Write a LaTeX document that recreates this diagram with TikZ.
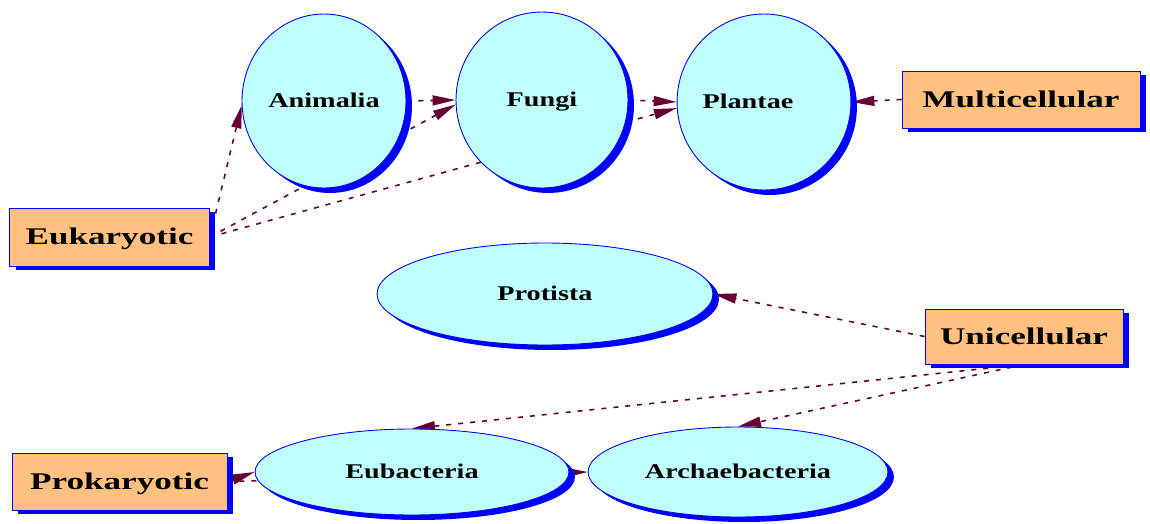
\documentclass[tikz,border=0pt]{standalone}
\usepackage{graphicx}
\usepackage{fontspec}
\setmainfont{Liberation Serif}
\usetikzlibrary{shapes.geometric,arrows.meta,shadows,backgrounds}
\definecolor{edgecol}{HTML}{660033}
\definecolor{boxfill}{HTML}{FFC080}
\definecolor{ellfill}{HTML}{BFFFFF}
\newcommand{\boxtxt}[1]{\scalebox{1.47}[1]{\fontsize{13.6pt}{14pt}\selectfont\bfseries #1}}
\newcommand{\elltxt}[1]{\scalebox{1.35}[1]{\fontsize{11.9pt}{12pt}\selectfont\bfseries #1}}
\begin{document}
\begin{tikzpicture}[x=0.02cm,y=-0.02cm,
  kingdom/.style={ellipse, draw=blue, line width=0.5pt, fill=ellfill, inner sep=0pt,
    text height=7pt, text depth=0pt,
    drop shadow={shadow xshift=0.12cm, shadow yshift=-0.1cm, fill=blue, opacity=1}},
  category/.style={rectangle, draw=blue, line width=0.5pt, fill=boxfill, inner sep=0pt,
    text height=9pt, text depth=0pt,
    drop shadow={shadow xshift=0.12cm, shadow yshift=-0.08cm, fill=blue, opacity=1}},
  edge/.style={draw=edgecol, line width=0.9pt, dash pattern=on 0.1cm off 0.14cm,
    -{Triangle[length=0.46cm,width=0.2cm,fill=edgecol]}}
]
\useasboundingbox (0,0) rectangle (1150,524);

% kingdoms
\node[kingdom, minimum width=3.28cm, minimum height=3.48cm] (ani) at (324,101) {\elltxt{Animalia}};
\node[kingdom, minimum width=3.44cm, minimum height=3.52cm] (fun) at (542,100) {\elltxt{Fungi}};
\node[kingdom, minimum width=3.24cm, minimum height=3.52cm] (pla) at (764,102) {\elltxt{Plantae}\hspace*{0.64cm}};
\node[kingdom, minimum width=6.72cm, minimum height=2.04cm] (prot) at (545,294) {\elltxt{Protista}};
\node[kingdom, minimum width=6.28cm, minimum height=1.72cm] (eub) at (412,472) {\elltxt{Eubacteria}};
\node[kingdom, minimum width=6.0cm, minimum height=1.8cm] (arc) at (738,472) {\elltxt{Archaebacteria}};

% categories
\node[category, minimum width=4.0cm, minimum height=1.16cm] (euk) at (109.5,237) {\boxtxt{Eukaryotic}};
\node[category, minimum width=4.76cm, minimum height=1.14cm] (mul) at (1021,99.5) {\boxtxt{Multicellular}};
\node[category, minimum width=3.96cm, minimum height=1.1cm] (uni) at (1024,336.5) {\boxtxt{Unicellular}};
\node[category, minimum width=4.3cm, minimum height=1.14cm] (pro) at (119.5,481.5) {\boxtxt{Prokaryotic}};

\begin{pgfonlayer}{background}
\draw[edge] (euk.east) -- (ani.183);
\draw[edge] (euk.east) -- (fun.183);
\draw[edge] (euk.east) -- (pla.184);
\draw[edge] (ani.east) -- (fun.west);
\draw[edge] (fun.east) -- (pla.west);
\draw[edge] (mul.west) -- (pla.east);
\draw[edge] (uni.west) -- (prot.east);
\draw[edge] (uni.south) -- (eub.north);
\draw[edge] (uni.south) -- (arc.north);
\draw[edge] (pro.east) -- (eub.west);
\draw[edge] (pro.east) -- (arc.west);
\end{pgfonlayer}
\end{tikzpicture}
\end{document}
